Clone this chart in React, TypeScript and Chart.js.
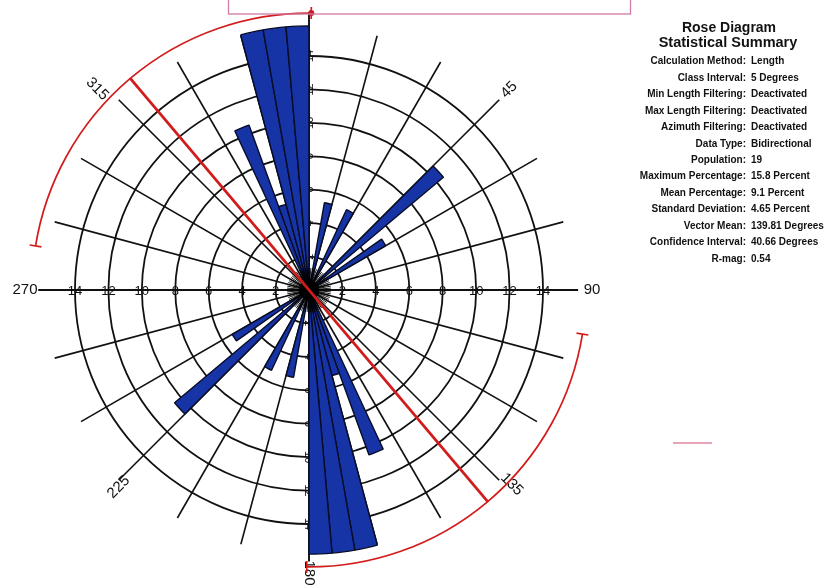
import React, { useEffect, useRef } from "react";
import { Chart, registerables } from "chart.js";

Chart.register(...registerables);

// ---- Data ----
const binSize = 5; // degrees per class
const binStarts = [10, 25, 45, 55, 155, 160, 165, 170, 175, 190, 205, 225, 235, 335, 340, 345, 350, 355];
const binPercents = [5.3, 5.3, 10.5, 5.3, 10.5, 5.3, 15.8, 15.8, 15.8, 5.3, 5.3, 10.5, 5.3, 10.5, 5.3, 15.8, 15.8, 15.8];
const ringTicks = [2, 4, 6, 8, 10, 12, 14];
const spokeBearings = [15, 30, 45, 60, 75, 105, 120, 135, 150, 165, 195, 210, 225, 240, 255, 285, 300, 315, 330, 345];
const angleLabels = ["45", "90", "135", "180", "225", "270", "315"];
const angleLabelBearings = [45, 90, 133.8, 180, 224, 270, 313.5];
const vectorMean = 139.81;
const confidenceInterval = 40.66;
const summaryTitle = ["Rose Diagram", "Statistical Summary"];
const summaryLabels = [
  "Calculation Method:",
  "Class Interval:",
  "Min Length Filtering:",
  "Max Length Filtering:",
  "Azimuth Filtering:",
  "Data Type:",
  "Population:",
  "Maximum Percentage:",
  "Mean Percentage:",
  "Standard Deviation:",
  "Vector Mean:",
  "Confidence Interval:",
  "R-mag:",
];
const summaryValues = [
  "Length",
  "5 Degrees",
  "Deactivated",
  "Deactivated",
  "Deactivated",
  "Bidirectional",
  "19",
  "15.8 Percent",
  "9.1 Percent",
  "4.65 Percent",
  "139.81 Degrees",
  "40.66 Degrees",
  "0.54",
];

const binCount = 360 / binSize;
const binData: number[] = [];
for (let i = 0; i < binCount; i++) binData.push(0);
binStarts.forEach((b, i) => {
  binData[Math.round(b / binSize)] = binPercents[i];
});

const FONT = '"Liberation Sans", Arial, sans-serif';

const rosePlugin = {
  id: "roseDecor",
  beforeDatasetsDraw(chart: any) {
    const s = chart.scales.r;
    const cx = s.xCenter;
    const cy = s.yCenter;
    const R = (v: number) => s.getDistanceFromCenterForValue(v);
    const pt = (b: number, r: number) => {
      const t = ((b - 90) * Math.PI) / 180;
      return [cx + r * Math.cos(t), cy + r * Math.sin(t)];
    };
    const ctx = chart.ctx;
    ctx.save();
    ctx.strokeStyle = "#111";
    ctx.lineWidth = 1.8;
    // rings
    for (const v of ringTicks) {
      ctx.beginPath();
      ctx.arc(cx, cy, R(v), 0, Math.PI * 2);
      ctx.stroke();
    }
    // spokes
    ctx.lineWidth = 1.6;
    for (const b of spokeBearings) {
      const len = b % 45 === 0 ? R(16.1) : R(15.75);
      const [x, y] = pt(b, len);
      ctx.beginPath();
      ctx.moveTo(cx, cy);
      ctx.lineTo(x, y);
      ctx.stroke();
    }
    // axes
    ctx.lineWidth = 1.9;
    ctx.beginPath();
    ctx.moveTo(cx - R(16.2), cy);
    ctx.lineTo(cx + R(16.1), cy);
    ctx.moveTo(cx, cy - R(16.6));
    ctx.lineTo(cx, cy + R(16.25));
    ctx.stroke();
    // tick labels on the axes
    ctx.fillStyle = "#111";
    ctx.font = "13px " + FONT;
    ctx.textAlign = "center";
    ctx.textBaseline = "middle";
    for (const v of ringTicks) {
      ctx.fillText(String(v), cx - R(v), cy + 1);
      ctx.fillText(String(v), cx + R(v), cy + 1);
    }
    ctx.font = "11px " + FONT;
    for (const v of ringTicks) {
      ctx.save();
      ctx.translate(cx + 1, cy - R(v));
      ctx.rotate(-Math.PI / 2);
      ctx.fillText(String(v), 0, 0);
      ctx.restore();
      ctx.save();
      ctx.translate(cx - 1, cy + R(v));
      ctx.rotate(Math.PI / 2);
      ctx.fillText(String(v), 0, 0);
      ctx.restore();
    }
    // direction labels
    ctx.font = "15px " + FONT;
    const radii = [283, 283, 281, 283, 274, 284, 292];
    const rots = [-45, 0, 45, 90, -45, 0, 45];
    angleLabels.forEach((lab, i) => {
      const [x, y] = pt(angleLabelBearings[i], radii[i]);
      ctx.save();
      ctx.translate(x, y);
      ctx.rotate((rots[i] * Math.PI) / 180);
      ctx.fillText(lab, 0, 0);
      ctx.restore();
    });
    ctx.restore();
  },
  afterDatasetsDraw(chart: any) {
    const s = chart.scales.r;
    const cx = s.xCenter;
    const cy = s.yCenter;
    const R = (v: number) => s.getDistanceFromCenterForValue(v);
    const pt = (b: number, r: number) => {
      const t = ((b - 90) * Math.PI) / 180;
      return [cx + r * Math.cos(t), cy + r * Math.sin(t)];
    };
    const rad = (b: number) => ((b - 90) * Math.PI) / 180;
    const ctx = chart.ctx;
    ctx.save();
    // central hub
    ctx.strokeStyle = "#000";
    ctx.lineWidth = 0.9;
    for (let b = 0; b < 360; b += 5) {
      const [x, y] = pt(b, 22);
      ctx.beginPath();
      ctx.moveTo(cx, cy);
      ctx.lineTo(x, y);
      ctx.stroke();
    }
    ctx.fillStyle = "#000";
    ctx.beginPath();
    ctx.arc(cx, cy, 10, 0, Math.PI * 2);
    ctx.fill();

    // vector mean and confidence arcs
    const arcR = R(16.57);
    ctx.strokeStyle = "#d21c1c";
    ctx.lineWidth = 2.8;
    const [x1, y1] = pt(vectorMean, arcR);
    const [x2, y2] = pt(vectorMean + 180, arcR);
    ctx.beginPath();
    ctx.moveTo(x2, y2);
    ctx.lineTo(x1, y1);
    ctx.stroke();
    ctx.lineWidth = 1.7;
    for (const base of [vectorMean, vectorMean + 180]) {
      const a0 = base - confidenceInterval;
      const a1 = base + confidenceInterval;
      ctx.beginPath();
      ctx.arc(cx, cy, arcR, rad(a0), rad(a1), false);
      ctx.stroke();
      for (const a of [a0, a1]) {
        const [ix, iy] = pt(a, arcR - 6);
        const [ox, oy] = pt(a, arcR + 6);
        ctx.beginPath();
        ctx.moveTo(ix, iy);
        ctx.lineTo(ox, oy);
        ctx.stroke();
      }
    }
    const [dx, dy] = pt(0.47, arcR);
    ctx.fillStyle = "#c81c2c";
    ctx.beginPath();
    ctx.arc(dx, dy, 3, 0, Math.PI * 2);
    ctx.fill();

    // pink title box (cut off at top)
    ctx.strokeStyle = "#d27aa8";
    ctx.lineWidth = 1.3;
    ctx.strokeRect(228.5, -3, 402, 17);

    // small pink line
    ctx.strokeStyle = "#e8a3b4";
    ctx.lineWidth = 2;
    ctx.beginPath();
    ctx.moveTo(673, 443);
    ctx.lineTo(712, 443);
    ctx.stroke();

    // summary
    ctx.fillStyle = "#111";
    ctx.textBaseline = "middle";
    ctx.textAlign = "center";
    ctx.font = "bold 14px " + FONT;
    ctx.fillText(summaryTitle[0], 729, 28);
    ctx.font = "bold 14.5px " + FONT;
    ctx.fillText(summaryTitle[1], 728, 43);
    ctx.font = "bold 10px " + FONT;
    summaryLabels.forEach((lab, i) => {
      const y = 61.5 + i * 16.45;
      ctx.textAlign = "right";
      ctx.fillText(lab, 746, y);
      ctx.textAlign = "left";
      ctx.fillText(summaryValues[i], 751, y);
    });
    ctx.restore();
  },
};

export default function App() {
  const ref = useRef<HTMLCanvasElement | null>(null);
  useEffect(() => {
    if (!ref.current) return;
    const chart = new Chart(ref.current, {
      type: "polarArea",
      data: {
        labels: binData.map((_, i) => String(i * binSize)),
        datasets: [
          {
            data: binData,
            backgroundColor: "#1634a6",
            borderColor: "#080c26",
            borderWidth: 1.4,
          },
        ],
      },
      options: {
        animation: false,
        responsive: false,
        maintainAspectRatio: false,
        events: [],
        layout: { padding: { left: 0, top: 0, right: 213, bottom: 6 } },
        plugins: { legend: { display: false }, tooltip: { enabled: false } },
        scales: {
          r: {
            min: 0,
            max: 17.35,
            startAngle: 0,
            ticks: { display: false },
            grid: { display: false },
            angleLines: { display: false },
            pointLabels: { display: false },
          },
        },
      },
      plugins: [rosePlugin],
    });
    return () => chart.destroy();
  }, []);
  return (
    <div style={{ position: "fixed", left: 0, top: 0, width: 831, height: 586, background: "#fff" }}>
      <canvas ref={ref} width={831} height={586} style={{ display: "block" }} />
    </div>
  );
}
